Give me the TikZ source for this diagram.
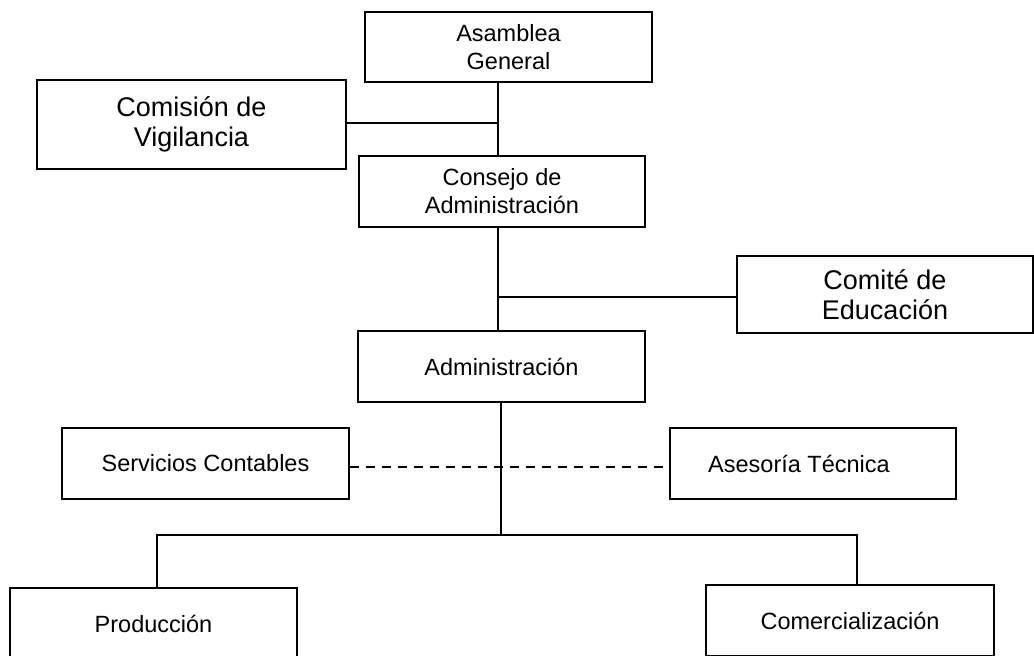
\documentclass[tikz,border=0pt]{standalone}
\usepackage{fontspec}
\setmainfont{Liberation Sans}
\begin{document}
\begin{tikzpicture}[x = 1pt, y = -1pt,
	caja/.style = {draw, line width = 2.2pt, inner sep = 0pt, align = center, font = \fontsize{23.5}{28}\selectfont},
	cajag/.style = {caja, font = \fontsize{27}{30}\selectfont},
	linea/.style = {line width = 2pt},
	punteada/.style = {line width = 1.6pt, dash pattern = on 9pt off 7pt}]
					\useasboundingbox (0,0) rectangle (1034,656);
					\node[caja, minimum width = 287pt, minimum height = 70pt] (asamblea) at (508.5,47) {Asamblea\\General};
					\node[cajag, minimum width = 309pt, minimum height = 89pt] (vigilancia) at (191.5,124.5) {Comisión de\\Vigilancia};
					\node[caja, minimum width = 286pt, minimum height = 71pt] (consejo) at (502,191.5) {Consejo de\\Administración};
					\node[cajag, minimum width = 296pt, minimum height = 77pt] (educacion) at (885,294.5) {Comité de\\Educación};
					\node[caja, minimum width = 287pt, minimum height = 71pt] (admin) at (501.5,366.5) {Administración};
					\node[caja, minimum width = 287pt, minimum height = 71pt] (contables) at (205.5,463.5) {Servicios Contables};
					\node[caja, minimum width = 286pt, minimum height = 71pt] (asesoria) at (813,463.5) {\hspace*{-28pt}Asesoría Técnica};
					\node[caja, minimum width = 287pt, minimum height = 72pt] (produccion) at (153.5,624) {Producción};
					\node[caja, minimum width = 288pt, minimum height = 71pt] (comercial) at (850,620.5) {Comercialización};
					\coordinate (eje1) at (498,123);
					\coordinate (eje2) at (498,297);
					\coordinate (bus) at (501,535);
					\coordinate (izq) at (157,535);
					\coordinate (der) at (857,535);
					\coordinate (punt) at (0,467);
					\draw[linea] (asamblea.south -| eje1)--(consejo.north -| eje1);
					\draw[linea] (vigilancia.east |- eje1)--(eje1);
					\draw[linea] (consejo.south -| eje2)--(admin.north -| eje2);
					\draw[linea] (eje2)--(educacion.west |- eje2);
					\draw[linea] (admin.south -| bus)--(bus);
					\draw[linea] (produccion.north -| izq)--(izq)--(der)--(comercial.north -| der);
					\draw[punteada] (contables.east |- punt)--(asesoria.west |- punt);
				\end{tikzpicture}
\end{document}
